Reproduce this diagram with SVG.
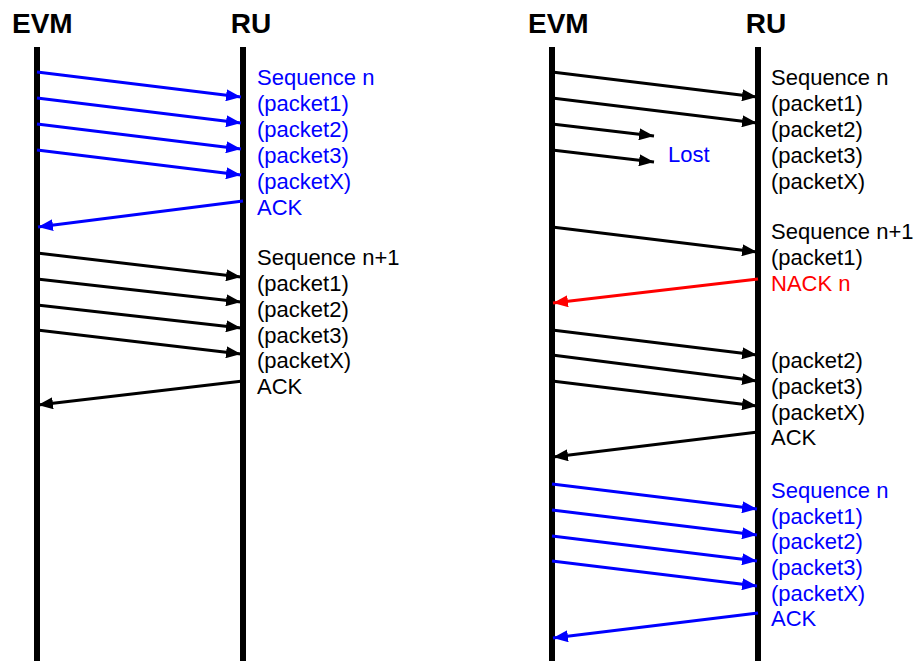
<svg xmlns="http://www.w3.org/2000/svg" width="917" height="661" viewBox="0 0 917 661">
<style>
.hdr{font-family:"Liberation Sans",Arial,sans-serif;font-weight:bold;font-size:28px;fill:#000}
.lbl{font-family:"Liberation Sans",Arial,sans-serif;font-size:22px}
.k{fill:#000}.b{fill:#0000FF}.r{fill:#FF0000}
.life{stroke:#000;stroke-width:6}
.ak{stroke:#000;stroke-width:3;fill:none;marker-end:url(#mk)}
.ab{stroke:#0000FF;stroke-width:3;fill:none;marker-end:url(#mb)}
.ar{stroke:#FF0000;stroke-width:3;fill:none;marker-end:url(#mr)}
</style>
<defs>
<marker id="mk" markerUnits="userSpaceOnUse" markerWidth="16" markerHeight="12" refX="15" refY="6" orient="auto"><path d="M0,0 L15,6 L0,12 z" fill="#000"/></marker>
<marker id="mb" markerUnits="userSpaceOnUse" markerWidth="16" markerHeight="12" refX="15" refY="6" orient="auto"><path d="M0,0 L15,6 L0,12 z" fill="#0000FF"/></marker>
<marker id="mr" markerUnits="userSpaceOnUse" markerWidth="16" markerHeight="12" refX="15" refY="6" orient="auto"><path d="M0,0 L15,6 L0,12 z" fill="#FF0000"/></marker>
</defs>
<rect width="917" height="661" fill="#fff"/>

<g id="evm-left"><text class="hdr" x="12" y="33">EVM</text><line class="life" x1="37" y1="47" x2="37" y2="661"/></g>
<g id="ru-left"><text class="hdr" x="251" y="33" text-anchor="middle">RU</text><line class="life" x1="243" y1="47" x2="243" y2="661"/></g>
<g id="evm-right"><text class="hdr" x="528" y="33">EVM</text><line class="life" x1="552" y1="47" x2="552" y2="661"/></g>
<g id="ru-right"><text class="hdr" x="766" y="33" text-anchor="middle">RU</text><line class="life" x1="758" y1="47" x2="758" y2="661"/></g>

<g id="connectors">
<line class="ab" x1="37" y1="72" x2="241" y2="97"/>
<line class="ab" x1="37" y1="98" x2="241" y2="123"/>
<line class="ab" x1="37" y1="124" x2="241" y2="149"/>
<line class="ab" x1="37" y1="150" x2="241" y2="175"/>
<line class="ab" x1="243" y1="201" x2="38" y2="227"/>
<line class="ak" x1="37" y1="253" x2="241" y2="277"/>
<line class="ak" x1="37" y1="279" x2="241" y2="302"/>
<line class="ak" x1="37" y1="305" x2="241" y2="328"/>
<line class="ak" x1="37" y1="330" x2="241" y2="354"/>
<line class="ak" x1="243" y1="381" x2="38" y2="405"/>

<line class="ak" x1="552" y1="72" x2="757" y2="97"/>
<line class="ak" x1="552" y1="98" x2="757" y2="123"/>
<line class="ak" x1="552" y1="124" x2="654" y2="136"/>
<line class="ak" x1="552" y1="150" x2="654" y2="162"/>
<line class="ak" x1="552" y1="227" x2="757" y2="252"/>
<line class="ar" x1="758" y1="279" x2="553" y2="303"/>
<line class="ak" x1="552" y1="330" x2="757" y2="355"/>
<line class="ak" x1="552" y1="355" x2="757" y2="381"/>
<line class="ak" x1="552" y1="381" x2="757" y2="406"/>
<line class="ak" x1="758" y1="432" x2="553" y2="457"/>
<line class="ab" x1="552" y1="484" x2="757" y2="509"/>
<line class="ab" x1="552" y1="510" x2="757" y2="535"/>
<line class="ab" x1="552" y1="536" x2="757" y2="561"/>
<line class="ab" x1="552" y1="561" x2="757" y2="586"/>
<line class="ab" x1="758" y1="613" x2="553" y2="638"/>
</g>

<g id="labels-left" class="lbl">
<text class="b" x="257" y="85">Sequence n</text>
<text class="b" x="257" y="111">(packet1)</text>
<text class="b" x="257" y="137">(packet2)</text>
<text class="b" x="257" y="163">(packet3)</text>
<text class="b" x="257" y="189">(packetX)</text>
<text class="b" x="257" y="215">ACK</text>
<text class="k" x="257" y="265">Sequence n+1</text>
<text class="k" x="257" y="291">(packet1)</text>
<text class="k" x="257" y="317">(packet2)</text>
<text class="k" x="257" y="343">(packet3)</text>
<text class="k" x="257" y="368">(packetX)</text>
<text class="k" x="257" y="394">ACK</text>
</g>

<g id="labels-right" class="lbl">
<text class="k" x="771" y="85">Sequence n</text>
<text class="k" x="771" y="111">(packet1)</text>
<text class="k" x="771" y="137">(packet2)</text>
<text class="k" x="771" y="163">(packet3)</text>
<text class="k" x="771" y="189">(packetX)</text>
<text class="b" x="668" y="162">Lost</text>
<text class="k" x="771" y="239">Sequence n+1</text>
<text class="k" x="771" y="265">(packet1)</text>
<text class="r" x="771" y="291">NACK n</text>
<text class="k" x="771" y="368">(packet2)</text>
<text class="k" x="771" y="394">(packet3)</text>
<text class="k" x="771" y="420">(packetX)</text>
<text class="k" x="771" y="445">ACK</text>
<text class="b" x="771" y="498">Sequence n</text>
<text class="b" x="771" y="524">(packet1)</text>
<text class="b" x="771" y="549">(packet2)</text>
<text class="b" x="771" y="575">(packet3)</text>
<text class="b" x="771" y="601">(packetX)</text>
<text class="b" x="771" y="626">ACK</text>
</g>
</svg>
